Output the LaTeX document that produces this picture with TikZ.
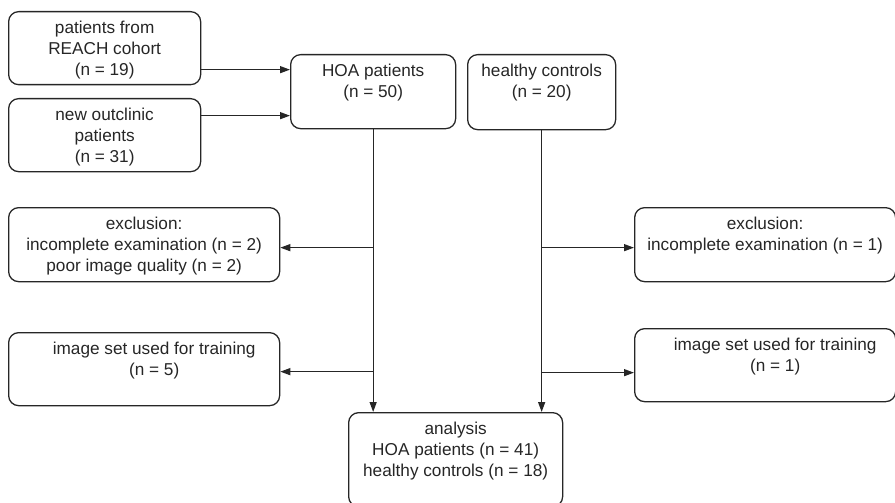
\documentclass[tikz,border=0pt]{standalone}
\usepackage{fontspec}
\setmainfont{Liberation Sans}
\usetikzlibrary{arrows.meta,calc}
\newcommand{\linecolor}{black!85}
\newcommand{\boxline}{1.3pt}
\newcommand{\boxfont}{\fontsize{17.2}{21}\selectfont}

\begin{document}
\begin{tikzpicture}[x=1pt,y=-1pt,
  flowbox/.style={draw=\linecolor, line width=\boxline, rounded corners=10pt, anchor=north west, inner sep=0pt},
  boxtext/.style={align=center, anchor=north, inner sep=0pt, font=\boxfont, text=\linecolor, yshift=-9.5pt},
  flowarrow/.style={draw=\linecolor, line width=\boxline, -{Triangle[length=10pt,width=7pt]}}]
\useasboundingbox (0,0) rectangle (895,503);
%sources
\node[flowbox, minimum width=192pt, minimum height=73pt, label={[boxtext]north:{patients from\\REACH cohort\\(n = 19)}}] (reach) at (8,11) {};
\node[flowbox, minimum width=192pt, minimum height=73pt, label={[boxtext]north:{new outclinic\\patients\\(n = 31)}}] (outclinic) at (8,98) {};
\node[flowbox, minimum width=165pt, minimum height=74pt, label={[boxtext]north:{HOA patients\\(n = 50)}}] (hoa) at (290,54) {};
\node[flowbox, minimum width=148pt, minimum height=75pt, label={[boxtext]north:{healthy controls\\(n = 20)}}] (healthy) at (467,54) {};
%exclusions
\node[flowbox, minimum width=271pt, minimum height=74pt, label={[boxtext]north:{exclusion:\\incomplete examination (n = 2)\\poor image quality (n = 2)}}] (exclL) at (8,207) {};
\node[flowbox, minimum width=271pt, minimum height=73pt, label={[boxtext,xshift=10pt]north:{image set used for training\\(n = 5)}}] (trainL) at (8,332) {};
\node[flowbox, minimum width=261pt, minimum height=74pt, label={[boxtext]north:{exclusion:\\incomplete examination (n = 1)}}] (exclR) at (634,207) {};
\node[flowbox, minimum width=261pt, minimum height=73pt, label={[boxtext,xshift=10pt]north:{image set used for training\\(n = 1)}}] (trainR) at (634,328) {};
%analysis
\node[flowbox, minimum width=214pt, minimum height=94pt, label={[boxtext]north:{analysis\\HOA patients (n = 41)\\healthy controls (n = 18)}}] (analysis) at (348,412) {};
\coordinate (reachout) at ($(reach.east)+(0,21.5)$);
\coordinate (outclinicout) at ($(outclinic.east)+(0,-19.5)$);
\coordinate (exclLin) at ($(exclL.east)+(0,3)$);
\coordinate (trainLin) at ($(trainL.east)+(0,2.5)$);
\coordinate (exclRin) at ($(exclR.west)+(0,3)$);
\coordinate (trainRin) at ($(trainR.west)+(0,7.5)$);
\draw[flowarrow] (reachout) -- (reachout -| hoa.west);
\draw[flowarrow] (outclinicout) -- (outclinicout -| hoa.west);
\draw[flowarrow] (hoa.south) -- (hoa.south |- analysis.north);
\draw[flowarrow] (healthy.south) -- (healthy.south |- analysis.north);
\draw[flowarrow] (hoa.south |- exclLin) -- (exclLin);
\draw[flowarrow] (hoa.south |- trainLin) -- (trainLin);
\draw[flowarrow] (healthy.south |- exclRin) -- (exclRin);
\draw[flowarrow] (healthy.south |- trainRin) -- (trainRin);
\end{tikzpicture}
\end{document}
